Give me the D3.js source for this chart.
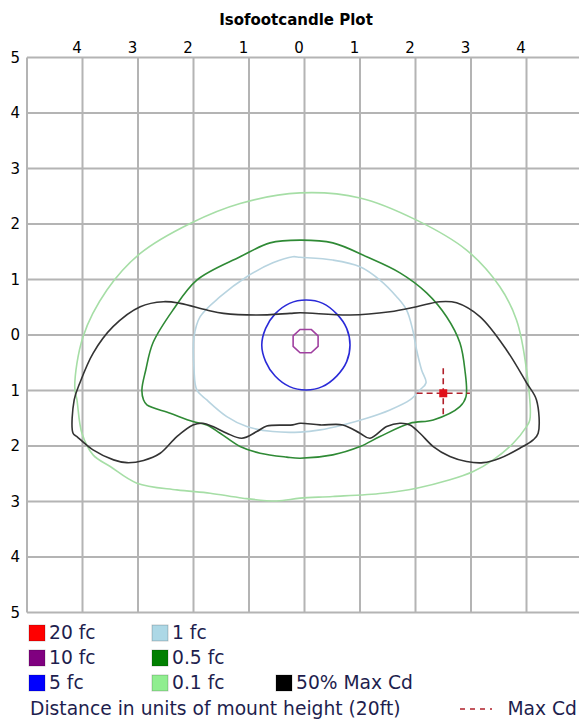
<!DOCTYPE html>
<html>
<head>
<meta charset="utf-8">
<script src="https://cdn.jsdelivr.net/npm/d3@7"></script>
<style>
  html, body { margin: 0; padding: 0; background: #fff; }
  svg { display: block; }
  text { font-family: "DejaVu Sans", sans-serif; }
</style>
</head>
<body>
<div id="chart"></div>
<script>
// Isofootcandle plot. Contours, in units of
// mount height: x to the right, y up, fixture at the origin.

const gridValues = [-5, -4, -3, -2, -1, 0, 1, 2, 3, 4, 5]
const topTicks = [-4, -3, -2, -1, 0, 1, 2, 3, 4]
const leftTicks = [5, 4, 3, 2, 1, 0, -1, -2, -3, -4, -5]

const fc10 = [
  [0.12, 0.10], [0.245, -0.015], [0.245, -0.205], [0.12, -0.32],
  [-0.08, -0.32], [-0.205, -0.205], [-0.205, -0.015], [-0.08, 0.10],
]

const fc5 = [
  [0.03, 0.63], [0.33, 0.57], [0.58, 0.38], [0.76, 0.12], [0.82, -0.18],
  [0.76, -0.48], [0.58, -0.74], [0.32, -0.93], [0.03, -0.99], [-0.27, -0.93],
  [-0.53, -0.74], [-0.70, -0.48], [-0.77, -0.18], [-0.70, 0.12], [-0.53, 0.38],
  [-0.27, 0.57],
]

const fc1 = [
  [-0.08, 1.40], [0.51, 1.35], [1.00, 1.23], [1.36, 0.99], [1.66, 0.69],
  [1.84, 0.45], [1.95, 0.09], [2.02, -0.27], [2.11, -0.63], [2.19, -0.86],
  [2.08, -0.99], [1.90, -1.17], [1.54, -1.35], [1.12, -1.50], [0.69, -1.62],
  [0.28, -1.71], [-0.08, -1.75], [-0.57, -1.74], [-1.04, -1.65], [-1.40, -1.47],
  [-1.76, -1.17], [-1.94, -0.99], [-1.99, -0.63], [-1.99, -0.03], [-1.88, 0.33],
  [-1.52, 0.69], [-1.04, 1.05], [-0.57, 1.30], [-0.21, 1.41],
]

const fc05 = [
  [-0.08, 1.71], [0.51, 1.66], [1.12, 1.41], [1.72, 1.12], [2.20, 0.76],
  [2.56, 0.33], [2.80, -0.14], [2.89, -0.63], [2.91, -1.11], [2.80, -1.29],
  [2.32, -1.53], [1.90, -1.59], [1.36, -1.83], [1.00, -2.01], [0.51, -2.16],
  [-0.08, -2.22], [-0.32, -2.20], [-0.80, -2.13], [-1.16, -2.01], [-1.52, -1.77],
  [-1.76, -1.62], [-2.01, -1.56], [-2.42, -1.41], [-2.84, -1.26], [-2.90, -1.17],
  [-2.93, -0.99], [-2.86, -0.63], [-2.73, -0.14], [-2.37, 0.45], [-1.94, 0.99],
  [-1.16, 1.41], [-0.62, 1.66],
]

const fc01 = [
  [-0.08, 2.56], [1.00, 2.47], [2.02, 2.07], [2.92, 1.53], [3.52, 0.87],
  [3.82, 0.27], [4.00, -0.63], [4.06, -1.53], [4.00, -1.65], [3.76, -1.95],
  [3.40, -2.25], [3.04, -2.46], [2.62, -2.61], [2.02, -2.76], [1.41, -2.85],
  [0.51, -2.91], [-0.08, -2.94], [-0.50, -2.99], [-1.11, -2.94], [-1.70, -2.85],
  [-2.30, -2.79], [-3.02, -2.67], [-3.50, -2.37], [-3.81, -2.16], [-4.01, -1.77],
  [-4.10, -1.17], [-4.14, -0.93], [-3.99, -0.03], [-3.56, 0.81], [-2.96, 1.47],
  [-2.06, 2.01], [-1.16, 2.37],
]

const halfMaxCd = [
  [-0.08, 0.40], [0.82, 0.36], [1.54, 0.42], [2.02, 0.51], [2.44, 0.60],
  [2.74, 0.58], [3.16, 0.33], [3.64, -0.27], [4.00, -0.86], [4.18, -1.17],
  [4.21, -1.77], [4.12, -1.89], [3.88, -2.04], [3.52, -2.22], [3.22, -2.30],
  [2.92, -2.28], [2.62, -2.19], [2.32, -2.01], [2.08, -1.77], [1.90, -1.62],
  [1.72, -1.59], [1.48, -1.65], [1.18, -1.86], [1.00, -1.77], [0.69, -1.62],
  [0.28, -1.62], [-0.08, -1.59], [-0.21, -1.62], [-0.68, -1.64], [-0.86, -1.74],
  [-1.13, -1.86], [-1.40, -1.77], [-1.65, -1.65], [-1.83, -1.59], [-2.01, -1.62],
  [-2.30, -1.83], [-2.60, -2.13], [-2.90, -2.26], [-3.20, -2.30], [-3.44, -2.25],
  [-3.81, -2.07], [-4.10, -1.83], [-4.17, -1.77], [-4.15, -1.17], [-4.05, -0.87],
  [-3.81, -0.33], [-3.45, 0.15], [-2.96, 0.51], [-2.54, 0.60], [-2.24, 0.57],
  [-1.76, 0.45], [-1.46, 0.39], [-0.86, 0.36], [-0.26, 0.39],
]

const maxCdPoint = [2.5, -1.05]
const maxCdArm = [0.48, 0.45]

const legendLabels = ['20 fc', '10 fc', '5 fc', '1 fc', '0.5 fc', '0.1 fc', '50% Max Cd']

const COLORS = {
  '20 fc': '#ff0000',
  '10 fc': '#800080',
  '5 fc': '#0000ff',
  '1 fc': '#add8e6',
  '0.5 fc': '#008000',
  '0.1 fc': '#90ee90',
  '50% Max Cd': '#000000',
  line10: '#a040a0',
  line5: '#2a2ad8',
  line1: '#b8d4e0',
  line05: '#2f8a35',
  line01: '#a6dea6',
  lineHalf: '#333333',
  maxCd: '#b0202a',
  grid: '#b4b4b4',
  text: '#1e1e4e',
}

const W = 579
const H = 722

const svg = d3.select('#chart').append('svg')
  .attr('width', W)
  .attr('height', H)

const x = d3.scaleLinear().domain([-5, 5]).range([27, 582])
const y = d3.scaleLinear().domain([5, -5]).range([57.5, 612.5])

svg.append('text')
  .attr('x', 296)
  .attr('y', 25)
  .attr('text-anchor', 'middle')
  .attr('font-weight', 'bold')
  .attr('font-size', 15)
  .attr('fill', '#000')
  .text('Isofootcandle Plot')

// grid
const grid = svg.append('g')
  .attr('stroke', COLORS.grid)
  .attr('stroke-width', 2)
grid.selectAll('line.v')
  .data(gridValues)
  .join('line')
  .attr('class', 'v')
  .attr('x1', (d) => x(d)).attr('x2', (d) => x(d))
  .attr('y1', y(5)).attr('y2', y(-5))
grid.selectAll('line.h')
  .data(gridValues)
  .join('line')
  .attr('class', 'h')
  .attr('y1', (d) => y(d)).attr('y2', (d) => y(d))
  .attr('x1', x(-5)).attr('x2', x(5))

// axes, labels only
const topAxis = svg.append('g')
  .attr('transform', `translate(0,${y(5)})`)
  .call(d3.axisTop(x).tickValues(topTicks).tickSize(0).tickPadding(5).tickFormat((d) => Math.abs(d)))
topAxis.select('.domain').remove()
topAxis.selectAll('text')
  .attr('dx', -6)
  .attr('font-size', 15)
  .attr('font-family', '"DejaVu Sans", sans-serif')
  .attr('fill', '#000')

const leftAxis = svg.append('g')
  .attr('transform', `translate(${x(-5)},0)`)
  .call(d3.axisLeft(y).tickValues(leftTicks).tickSize(0).tickPadding(7).tickFormat((d) => Math.abs(d)))
leftAxis.select('.domain').remove()
leftAxis.selectAll('text')
  .attr('font-size', 15)
  .attr('font-family', '"DejaVu Sans", sans-serif')
  .attr('fill', '#000')

// contours
const ring = d3.line()
  .x((d) => x(d[0]))
  .y((d) => y(d[1]))
  .curve(d3.curveCatmullRomClosed.alpha(0.5))
const octagon = d3.line()
  .x((d) => x(d[0]))
  .y((d) => y(d[1]))
  .curve(d3.curveLinearClosed)

const contours = [
  { pts: fc01, color: COLORS.line01, gen: ring },
  { pts: fc05, color: COLORS.line05, gen: ring },
  { pts: fc1, color: COLORS.line1, gen: ring },
  { pts: fc5, color: COLORS.line5, gen: ring },
  { pts: fc10, color: COLORS.line10, gen: octagon },
  { pts: halfMaxCd, color: COLORS.lineHalf, gen: ring },
]

svg.append('g')
  .attr('fill', 'none')
  .selectAll('path')
  .data(contours)
  .join('path')
  .attr('d', (d) => d.gen(d.pts))
  .attr('stroke', (d) => d.color)
  .attr('stroke-width', 1.6)

// max candela marker
const mc = svg.append('g')
  .attr('stroke', COLORS.maxCd)
  .attr('stroke-width', 1.6)
  .attr('stroke-dasharray', '6 4')
mc.append('line')
  .attr('x1', x(maxCdPoint[0] - maxCdArm[0])).attr('x2', x(maxCdPoint[0] + maxCdArm[0]))
  .attr('y1', y(maxCdPoint[1])).attr('y2', y(maxCdPoint[1]))
mc.append('line')
  .attr('x1', x(maxCdPoint[0])).attr('x2', x(maxCdPoint[0]))
  .attr('y1', y(maxCdPoint[1] + maxCdArm[1])).attr('y2', y(maxCdPoint[1] - maxCdArm[1]))
svg.append('rect')
  .attr('x', x(maxCdPoint[0]) - 4)
  .attr('y', y(maxCdPoint[1]) - 4)
  .attr('width', 8)
  .attr('height', 8)
  .attr('fill', '#e0101a')

// legend
const legendPos = [
  [29, 633], [29, 658], [29, 683],
  [152, 633], [152, 658], [152, 683],
  [276, 683],
]
const legend = svg.append('g')
  .selectAll('g')
  .data(legendLabels)
  .join('g')
  .attr('transform', (d, i) => `translate(${legendPos[i][0]},${legendPos[i][1]})`)
legend.append('rect')
  .attr('x', 0).attr('y', -8)
  .attr('width', 16).attr('height', 16)
  .attr('fill', (d) => COLORS[d])
  .attr('stroke', 'rgba(0,0,0,0.2)')
legend.append('text')
  .attr('x', 20)
  .attr('y', 6)
  .attr('font-size', 18.7)
  .attr('fill', COLORS.text)
  .text((d) => d)

svg.append('text')
  .attr('x', 30)
  .attr('y', 715)
  .attr('font-size', 18.7)
  .attr('fill', COLORS.text)
  .text('Distance in units of mount height (20ft)')

svg.append('line')
  .attr('x1', 460).attr('x2', 492)
  .attr('y1', 709).attr('y2', 709)
  .attr('stroke', COLORS.maxCd)
  .attr('stroke-width', 1.5)
  .attr('stroke-dasharray', '5 5')
svg.append('text')
  .attr('x', 577)
  .attr('y', 715)
  .attr('text-anchor', 'end')
  .attr('font-size', 18.7)
  .attr('fill', COLORS.text)
  .text('Max Cd')
</script>
</body>
</html>
